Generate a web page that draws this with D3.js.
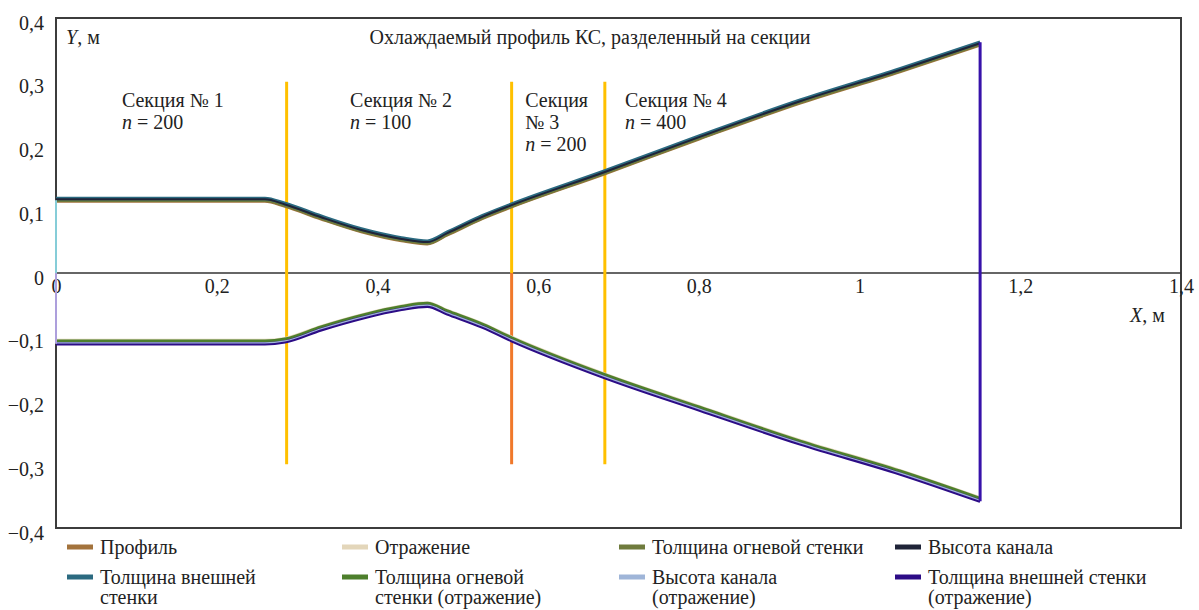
<!DOCTYPE html>
<html>
<head>
<meta charset="utf-8">
<script src="https://cdn.jsdelivr.net/npm/d3@7"></script>
<style>
  body { margin: 0; background: #fff; }
  svg text { font-family: "Liberation Serif", "Times New Roman", Times, Tinos, "DejaVu Serif", serif; fill: #222; }
</style>
</head>
<body>
<script>
// x positions along the chamber (m)
var xs = [0, 0.26, 0.285, 0.33, 0.38, 0.43, 0.462, 0.487, 0.531, 0.567, 0.683, 0.801, 0.926, 1.05, 1.15];

// upper contour series (m)
var profile      = [0.113, 0.113, 0.105, 0.085, 0.065, 0.051, 0.046, 0.060, 0.086, 0.104, 0.156, 0.211, 0.267, 0.316, 0.358];
var fireWall     = [0.114, 0.114, 0.106, 0.086, 0.066, 0.052, 0.047, 0.061, 0.087, 0.105, 0.157, 0.212, 0.268, 0.317, 0.359];
var channel      = [0.1155, 0.1155, 0.1075, 0.0875, 0.0675, 0.0535, 0.0485, 0.0625, 0.0885, 0.1065, 0.1585, 0.2135, 0.2695, 0.3185, 0.3605];
var outerWall    = [0.117, 0.117, 0.109, 0.089, 0.069, 0.055, 0.050, 0.064, 0.090, 0.108, 0.160, 0.215, 0.271, 0.320, 0.362];

// lower (reflected) contour series (m)
var profileRefl   = [-0.106, -0.106, -0.103, -0.084, -0.066, -0.052, -0.047, -0.059, -0.080, -0.101, -0.159, -0.210, -0.263, -0.310, -0.353];
var fireWallRefl  = [-0.107, -0.107, -0.104, -0.085, -0.067, -0.053, -0.048, -0.060, -0.081, -0.102, -0.160, -0.211, -0.264, -0.311, -0.354];
var channelRefl   = [-0.1095, -0.1095, -0.1065, -0.0875, -0.0695, -0.0555, -0.0505, -0.0625, -0.0835, -0.1045, -0.1625, -0.2135, -0.2665, -0.3135, -0.3565];
var outerWallRefl = [-0.111, -0.111, -0.108, -0.089, -0.071, -0.057, -0.052, -0.064, -0.085, -0.106, -0.164, -0.215, -0.268, -0.315, -0.358];

// closing edges of the contour
var edgeX    = [0, 0, 1.15];
var edgeFrom = [0, 0, -0.358];
var edgeTo   = [0.114, -0.111, 0.362];

// section borders
var sectionX   = [0.287, 0.567, 0.683];
var sectionTop = 0.3, sectionBottom = -0.3;
var sectionNames = [["Секция № 1", "n = 200"], ["Секция № 2", "n = 100"], ["Секция", "№ 3", "n = 200"], ["Секция № 4", "n = 400"]];
var sectionLabelX = [0.082, 0.366, 0.584, 0.708];

var xTicks = [0, 0.2, 0.4, 0.6, 0.8, 1, 1.2, 1.4];
var yTicks = [-0.4, -0.3, -0.2, -0.1, 0, 0.1, 0.2, 0.3, 0.4];

var legendNames = [
  ["Профиль"], ["Отражение"], ["Толщина огневой стенки"], ["Высота канала"],
  ["Толщина внешней", "стенки"], ["Толщина огневой", "стенки (отражение)"],
  ["Высота канала", "(отражение)"], ["Толщина внешней стенки", "(отражение)"]
];

/*

  STYLES

*/
var FONT = '"Liberation Serif", "Times New Roman", Times, Tinos, "DejaVu Serif", serif';
var colors = {
  profile: "#a3733c", profileRefl: "#e3d6ba", fireWall: "#6f7b3d", channel: "#1f2438",
  outerWall: "#2b6a80", fireWallRefl: "#4d7f2c", channelRefl: "#9fb5d8", outerWallRefl: "#2c0c86"
};
var legendColors = [colors.profile, colors.profileRefl, colors.fireWall, colors.channel,
                    colors.outerWall, colors.fireWallRefl, colors.channelRefl, colors.outerWallRefl];
var edgeColors = ["#86cdd8", "#ad9fdc", "#3712aa"];

var W = 1199, H = 610;
var svg = d3.select("body").append("svg").attr("width", W).attr("height", H)
  .style("font-family", FONT);

var x = d3.scaleLinear().domain([0, 1.4]).range([56, 1181]);
var y = d3.scaleLinear().domain([-0.4, 0.4]).range([528, 18]);

function fmt(v) {
  return d3.format("")(+v.toFixed(1)).replace(".", ",").replace("-", "\u2013");
}

// frame
svg.append("rect")
  .attr("x", x(0)).attr("y", y(0.4))
  .attr("width", x(1.4) - x(0)).attr("height", y(-0.4) - y(0.4))
  .style("fill", "none").style("stroke", "#3c3c3c").style("stroke-width", 2);

// zero axis
svg.append("line")
  .attr("x1", x(0)).attr("x2", x(1.4)).attr("y1", y(0)).attr("y2", y(0))
  .style("stroke", "#333").style("stroke-width", 1.5);

var xAxis = svg.append("g")
  .attr("transform", "translate(0," + y(0) + ")")
  .call(d3.axisBottom(x).tickValues(xTicks).tickSize(0).tickPadding(6).tickFormat(fmt));
xAxis.select(".domain").remove();

var yAxis = svg.append("g")
  .attr("transform", "translate(" + x(0) + ",0)")
  .call(d3.axisLeft(y).tickValues(yTicks).tickSize(0).tickPadding(12).tickFormat(fmt));
yAxis.select(".domain").remove();
yAxis.selectAll("text").attr("dy", "0.55em");

svg.selectAll("g").attr("font-family", null).attr("font-size", null);
svg.selectAll(".tick text")
  .style("font-family", FONT).style("font-size", "20px").style("fill", "#222");

// section borders
sectionX.forEach(function (sx, i) {
  svg.append("line")
    .attr("x1", x(sx)).attr("x2", x(sx)).attr("y1", y(sectionTop)).attr("y2", y(0))
    .style("stroke", "#ffc000").style("stroke-width", 3);
  svg.append("line")
    .attr("x1", x(sx)).attr("x2", x(sx)).attr("y1", y(0)).attr("y2", y(sectionBottom))
    .style("stroke", i == 1 ? "#f0782a" : "#ffc000").style("stroke-width", 3);
});

// contour lines
var line = d3.line()
  .x(function (d) { return x(d[0]); })
  .y(function (d) { return y(d[1]); })
  .curve(d3.curveMonotoneX);
function series(vals, color, width) {
  svg.append("path")
    .datum(d3.zip(xs, vals))
    .attr("d", line)
    .style("fill", "none").style("stroke", color).style("stroke-width", width)
    .style("stroke-linejoin", "round");
}

series(profileRefl, colors.profileRefl, 3.5);
series(fireWallRefl, colors.fireWallRefl, 3.5);
series(outerWallRefl, colors.outerWallRefl, 3.5);
series(channelRefl, colors.channelRefl, 1.2);

series(profile, colors.profile, 3.5);
series(fireWall, colors.fireWall, 3.5);
series(outerWall, colors.outerWall, 3.5);
series(channel, colors.channel, 2);

edgeX.forEach(function (ex, i) {
  svg.append("line")
    .attr("x1", x(ex)).attr("x2", x(ex)).attr("y1", y(edgeFrom[i])).attr("y2", y(edgeTo[i]))
    .style("stroke", edgeColors[i]).style("stroke-width", i == 2 ? 3 : 2);
});

// texts
svg.append("text").attr("x", 590).attr("y", 44).attr("text-anchor", "middle")
  .style("font-size", "20px").text("Охлаждаемый профиль КС, разделенный на секции");

var yl = svg.append("text").attr("x", 66).attr("y", 44).style("font-size", "20px");
yl.append("tspan").style("font-style", "italic").text("Y");
yl.append("tspan").text(", м");

var xl = svg.append("text").attr("x", 1130).attr("y", 322).style("font-size", "20px");
xl.append("tspan").style("font-style", "italic").text("X");
xl.append("tspan").text(", м");

sectionNames.forEach(function (lines, i) {
  lines.forEach(function (t, j) {
    var tx = svg.append("text")
      .attr("x", x(sectionLabelX[i])).attr("y", 107 + j * 22)
      .style("font-size", "20px");
    if (t.indexOf("n = ") == 0) {
      tx.append("tspan").style("font-style", "italic").text("n");
      tx.append("tspan").text(t.slice(1));
    } else {
      tx.text(t);
    }
  });
});

// legend
var colX = [67, 342, 619, 895];
var rowY = [547, 577];
legendNames.forEach(function (lines, i) {
  var c = i % 4, r = Math.floor(i / 4);
  svg.append("rect")
    .attr("x", colX[c]).attr("y", rowY[r] - 2.5).attr("width", 26).attr("height", 5)
    .style("fill", legendColors[i]);
  lines.forEach(function (t, j) {
    svg.append("text")
      .attr("x", colX[c] + 33).attr("y", rowY[r] + 7 + j * 20)
      .style("font-size", "20px").text(t);
  });
});
</script>
</body>
</html>
